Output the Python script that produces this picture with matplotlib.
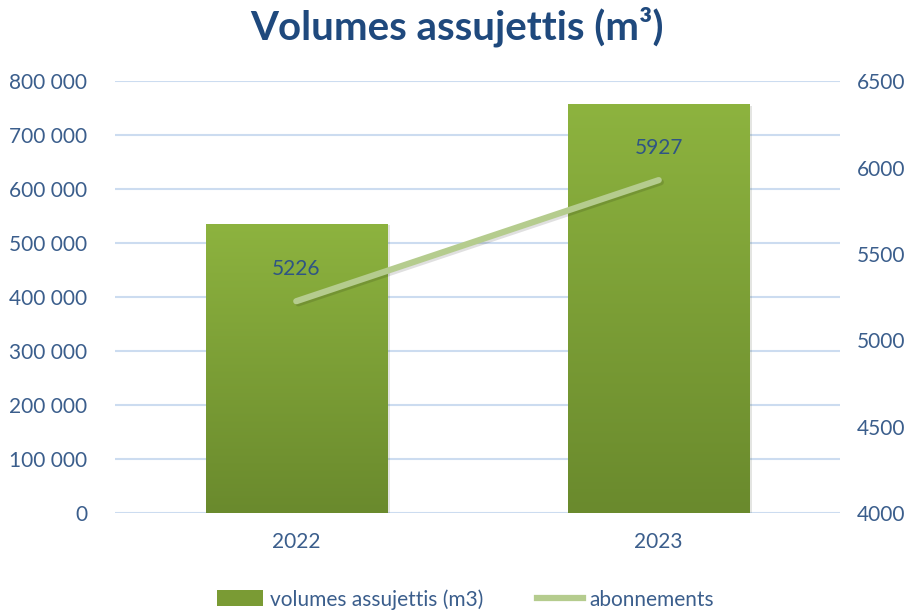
import matplotlib.pyplot as plt
import matplotlib.patheffects as pe
from matplotlib.lines import Line2D
from matplotlib.patches import Patch
from matplotlib.ticker import FuncFormatter
from matplotlib.colors import LinearSegmentedColormap
import numpy as np

years = ["2022", "2023"]
volumes = [536000, 757000]
abonnements = [5226, 5927]

plt.rcParams['font.family'] = ['Lato', 'DejaVu Sans']
tick_color = '#3B5E8C'
grid_color = '#CCDCF0'

fig = plt.figure(figsize=(9.13, 6.10), dpi=100)
ax = fig.add_axes([0.126, 0.159, 0.794, 0.708])
ax2 = ax.twinx()

x = np.arange(len(years))
bars = ax.bar(x, volumes, width=0.5, color='#7FA23A', zorder=2)

# vertical gradient inside each bar: light at top, darker at bottom
grad = np.linspace(0, 1, 256).reshape(-1, 1)
cmap = LinearSegmentedColormap.from_list('g', ['#8DB33F', '#6A8A2D'])
for b in bars:
    x0, y0 = b.get_x(), b.get_y()
    w, h = b.get_width(), b.get_height()
    im = ax.imshow(grad, extent=(x0, x0 + w, y0, y0 + h), cmap=cmap,
                   aspect='auto', origin='upper', zorder=3)
    im.set_clip_path(b)
    b.set_path_effects([pe.SimplePatchShadow(offset=(2, -1), alpha=0.12), pe.Normal()])

ax.set_xlim(-0.5, 1.5)
ax.set_ylim(0, 800000)
ax.set_yticks(np.arange(0, 800001, 100000))
ax.yaxis.set_major_formatter(FuncFormatter(lambda v, p: f"{int(v):,}".replace(",", " ")))
ax.grid(axis='y', color=grid_color, linewidth=1.5, zorder=0)
ax.set_axisbelow(True)
ax.set_xticks(x)
ax.set_xticklabels(years)

line, = ax2.plot(x, abonnements, color='#B5CC8E', linewidth=4.5, solid_capstyle='round',
                 zorder=5,
                 path_effects=[pe.SimpleLineShadow(offset=(1.5, -1.5), alpha=0.12), pe.Normal()])
ax2.set_ylim(4000, 6500)
ax2.set_yticks(np.arange(4000, 6501, 500))
for xi, v in zip(x, abonnements):
    ax2.annotate(str(v), (xi, v), xytext=(0, 16), textcoords='offset points',
                 ha='center', va='bottom', color='#2F5584', fontsize=15)

for a in (ax, ax2):
    for s in a.spines.values():
        s.set_visible(False)
    a.tick_params(length=0, labelsize=15, labelcolor=tick_color)
ax.tick_params(axis='y', pad=20)
ax2.tick_params(axis='y', pad=12)
ax.tick_params(axis='x', pad=14)

fig.suptitle("Volumes assujettis (m³)", y=0.99, fontsize=29, fontweight='bold', color='#1F497D')

handles = [Patch(facecolor='#7A9B34', label='volumes assujettis (m3)'),
           Line2D([0], [0], color='#B5CC8E', linewidth=4.5, label='abonnements')]
fig.legend(handles=handles, loc='lower center', bbox_to_anchor=(0.51, -0.03), ncol=2,
           frameon=False, fontsize=15, labelcolor=tick_color, handlelength=2.2,
           handleheight=0.8, columnspacing=2.6, handletextpad=0.3)

fig.savefig('out.png', dpi=100)
